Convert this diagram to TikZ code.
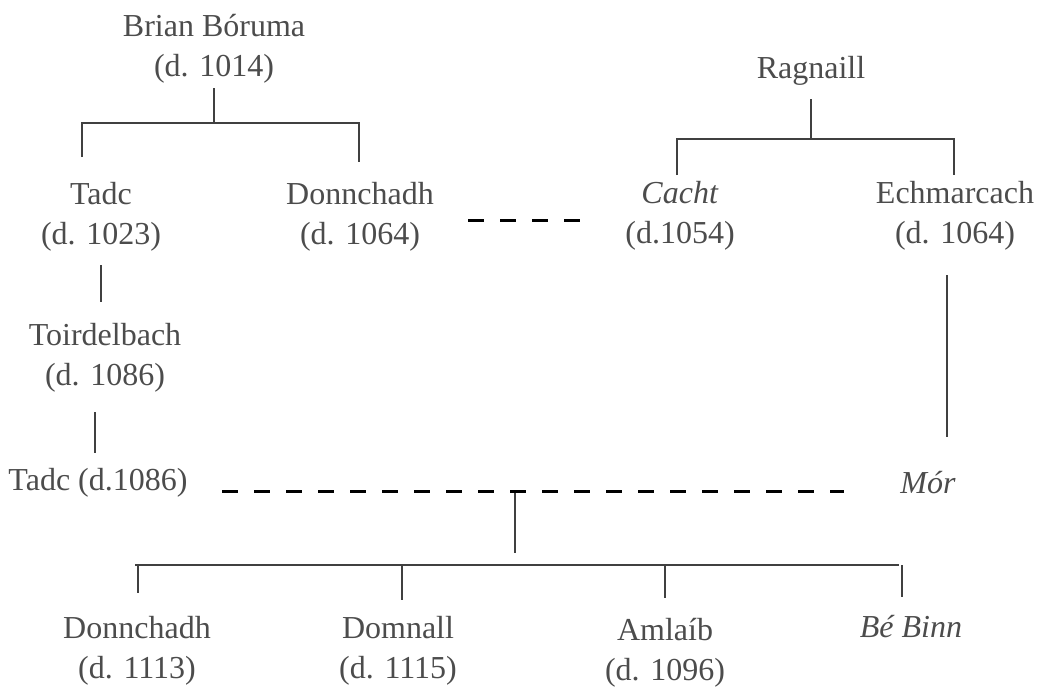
\documentclass[tikz,border=0pt]{standalone}
\usepackage{fontspec}
\setmainfont{Liberation Serif}
\newcommand{\died}[2]{\strut #1\\\strut #2}
\begin{document}
\begin{tikzpicture}[
  x=0.5pt, y=-0.5pt,
  every node/.style={inner sep=0pt, align=center, text=black!70,
    font=\fontsize{16}{20}\selectfont},
  descent/.style={draw=black!75, line width=0.7pt},
  wedlock/.style={draw=black, line width=1.5pt, dash pattern=on 8pt off 8pt}
]
\useasboundingbox (0,0) rectangle (1039,686);

% people
\node (brian) at (214,48) {\died{Brian Bóruma}{(d. 1014)}};
\node (ragnaill) at (811,70) {\strut Ragnaill};
\node (tadcA) at (101,216) {\died{Tadc}{(d. 1023)}};
\node (donnA) at (360,216) {\died{Donnchadh}{(d. 1064)}};
\node (cacht) at (680,215) {\died{\textit{Cacht}}{(d.1054)}};
\node (echm) at (955,215) {\died{Echmarcach}{(d. 1064)}};
\node (toird) at (105,357) {\died{Toirdelbach}{(d. 1086)}};
\node (tadcB) at (98,482) {\strut Tadc (d.1086)};
\node (mor) at (928,485) {\strut\textit{Mór}};
\node (donnB) at (137,650) {\died{Donnchadh}{(d. 1113)}};
\node (domnall) at (398,650) {\died{Domnall}{(d. 1115)}};
\node (amlaib) at (665,652) {\died{Amlaíb}{(d. 1096)}};
\node (bebinn) at (911,629) {\strut\textit{Bé Binn}};

% line ends
\path (214,123) coordinate (bbar) (82,157) coordinate (bL) (359,162) coordinate (bR)
  (811,139) coordinate (rbar) (677,175) coordinate (rL) (954,175) coordinate (rR)
  (95,412) coordinate (tT) (95,453) coordinate (tB)
  (947,275) coordinate (eT) (947,437) coordinate (eB)
  (468,220) coordinate (wA) (580,220) coordinate (wB)
  (222,491) coordinate (wC) (844,491) coordinate (wD) (515,491) coordinate (wed)
  (515,553) coordinate (kstem) (135,565) coordinate (kL) (899,565) coordinate (kR);

% descent
\draw[descent] (brian.south) -- (bbar);
\draw[descent] (bL) |- (bbar) -| (bR);
\draw[descent, shorten <=4.5pt] (ragnaill.south) -- (rbar);
\draw[descent] (rL) |- (rbar) -| (rR);
\draw[descent, shorten <=4.5pt, shorten >=7.5pt] (tadcA.south) -- (tadcA.south |- toird.north);
\draw[descent] (tT) -- (tB);
\draw[descent] (eT) -- (eB);
\draw[descent] (wed) -- (kstem);
\draw[descent] (kL) -- (kR);
\foreach \x/\y in {138/593, 402/600, 665/598, 902/597}
  \draw[descent] (\x,565) -- (\x,\y);

% marriages
\draw[wedlock] (wA) -- (wB);
\draw[wedlock] (wC) -- (wD);
\end{tikzpicture}
\end{document}
